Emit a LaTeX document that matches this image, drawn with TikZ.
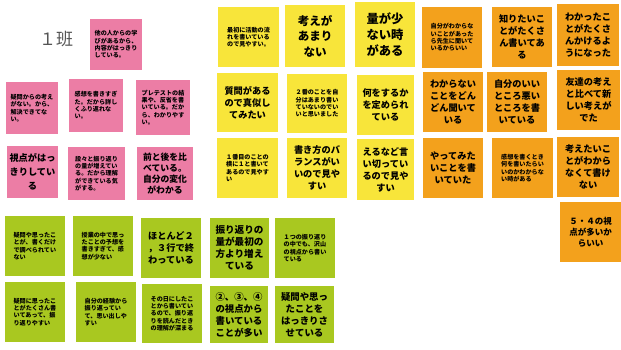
\documentclass[tikz,border=0pt]{standalone}
\usepackage{fontspec}
\setmainfont{Noto Sans CJK JP}
\definecolor{pinkc}{HTML}{EC7DA5}
\definecolor{yelc}{HTML}{F8E53A}
\definecolor{orac}{HTML}{F3A11C}
\definecolor{grnc}{HTML}{A9C820}
\definecolor{titlec}{HTML}{555555}
\tikzset{
  note/.style={inner sep=0pt, text=black},
  pk/.style={note, fill=pinkc},
  yl/.style={note, fill=yelc},
  og/.style={note, fill=orac},
  gn/.style={note, fill=grnc},
  sz/.style 2 args={minimum width=#1pt, minimum height=#2pt},
  sm/.style={align=left, font=\fontsize{6.1}{7.3}\selectfont\bfseries},
  md/.style={align=center, font=\fontsize{9.2}{12}\selectfont\bfseries},
  fs/.style 2 args={align=center, font=\fontsize{#1}{#2}\selectfont\bfseries},
}
\begin{document}
\begin{tikzpicture}[x=1pt,y=-1pt]
\useasboundingbox[fill=white] (0,0) rectangle (621,350);
\node[text=titlec, font=\fontsize{17}{20}\selectfont] (title) at (56,39) {１班};
% pink
\node[pk, sz={52}{51}, sm] (p0) at (116,44.5) {他の人からの学\\びがあるから、\\内容がはっきり\\している。};
\node[pk, sz={52}{52}, sm] (p1) at (32,108) {疑問からの考え\\がない。から、\\解決できてな\\い。};
\node[pk, sz={54}{53}, sm] (p2) at (96,105.5) {感想を書きすぎ\\た。だから詳し\\くふり返れな\\い。};
\node[pk, sz={54}{55}, sm] (p3) at (163,107.5) {プレテストの結\\果や、反省を書\\いている。だか\\ら、わかりやす\\い。};
\node[pk, sz={51}{52}, fs={9.2}{14}] (p4) at (32.5,172) {視点がはっ\\きりしてい\\る};
\node[pk, sz={57}{53}, sm] (p5) at (96.5,173.5) {段々と振り返り\\の量が増えてい\\る。だから理解\\ができている気\\がする。};
\node[pk, sz={56}{53}, fs={8.8}{11}] (p6) at (165,173.5) {前と後を比\\べている。\\自分の変化\\がわかる};
% yellow
\node[yl, sz={61}{60}, sm] (y1) at (248.5,37) {最初に活動の流\\れを書いている\\ので見やすい。};
\node[yl, sz={60}{62}, fs={11.5}{15.5}] (y2) at (315,36) {考えが\\あまり\\ない};
\node[yl, sz={60}{65}, fs={12.3}{16}] (y3) at (385,34.5) {量が少\\ない時\\がある};
\node[yl, sz={61}{59}, md] (y4) at (247.5,102.5) {質問がある\\ので真似し\\てみたい};
\node[yl, sz={60}{59}, sm] (y5) at (317,103.5) {２番のことを自\\分はあまり書い\\ていないのでい\\いと思いました};
\node[yl, sz={57}{60}, md] (y6) at (385.5,105) {何をするか\\を定められ\\ている};
\node[yl, sz={61}{60}, sm] (y7) at (247.5,168) {１番目のことの\\横に１と書いて\\あるので見やす\\い};
\node[yl, sz={60}{60}, md] (y8) at (317,168) {書き方のバ\\ランスがい\\いので見や\\すい};
\node[yl, sz={57}{61}, md] (y9) at (385.5,169.5) {えるなど言\\い切ってい\\るので見や\\すい};
% orange
\node[og, sz={60}{61}, sm] (o1) at (452,37.5) {自分がわからな\\いことがあった\\ら先生に聞いて\\いるからいい};
\node[og, sz={60}{60}, md] (o2) at (522,37) {知りたいこ\\とがたくさ\\ん書いてあ\\る};
\node[og, sz={62}{62}, md] (o3) at (588,35) {わかったこ\\とがたくさ\\んかけるよ\\うになった};
\node[og, sz={60}{60}, md] (o4) at (453,102) {わからない\\ことをどん\\どん聞いて\\いる};
\node[og, sz={60}{60}, md] (o5) at (517,102) {自分のいい\\ところ悪い\\ところを書\\いている};
\node[og, sz={63}{60}, md] (o6) at (588.5,100) {友達の考え\\と比べて新\\しい考えが\\でた};
\node[og, sz={60}{60}, md] (o7) at (453,168) {やってみた\\いことを書\\いていた};
\node[og, sz={61}{60}, sm] (o8) at (522.5,168) {感想を書くとき\\何を書いたらい\\いのかわからな\\い時がある};
\node[og, sz={62}{60}, md] (o9) at (588,167) {考えたいこ\\とがわから\\なくて書け\\ない};
\node[og, sz={61}{60}, fs={8.5}{11}] (o10) at (590.5,232) {５・４の視\\点が多いか\\らいい};
% green
\node[gn, sz={60}{60}, sm] (g1) at (35,246) {疑問や思ったこ\\とが、書くだけ\\で調べられてい\\ない};
\node[gn, sz={60}{60}, sm] (g2) at (103,246) {授業の中で思っ\\たことの予想を\\書きすぎて、感\\想が少ない};
\node[gn, sz={60}{60}, md] (g3) at (171,248) {ほとんど２\\，３行で終\\わっている};
\node[gn, sz={59}{60}, fs={9.6}{12}] (g4) at (239.5,248) {振り返りの\\量が最初の\\方より増え\\ている};
\node[gn, sz={60}{60}, sm] (g5) at (305,248) {１つの振り返り\\の中でも、沢山\\の視点から書い\\ている};
\node[gn, sz={60}{60}, sm] (g6) at (35,312) {疑問に思ったこ\\とがたくさん書\\いてあって、振\\り返りやすい};
\node[gn, sz={60}{60}, sm] (g7) at (106,312) {自分の経験から\\振り返ってい\\て、思い出しや\\すい};
\node[gn, sz={60}{59}, sm] (g8) at (172,313.5) {その日にしたこ\\とから書いてい\\るので、振り返\\りを読んだとき\\の理解が深まる};
\node[gn, sz={58}{57}, fs={9.4}{12}] (g9) at (239,314.5) {②、③、④\\の視点から\\書いている\\ことが多い};
\node[gn, sz={59}{57}, fs={9.4}{12}] (g10) at (304.5,314.5) {疑問や思っ\\たことを\\はっきりさ\\せている};
\end{tikzpicture}
\end{document}
